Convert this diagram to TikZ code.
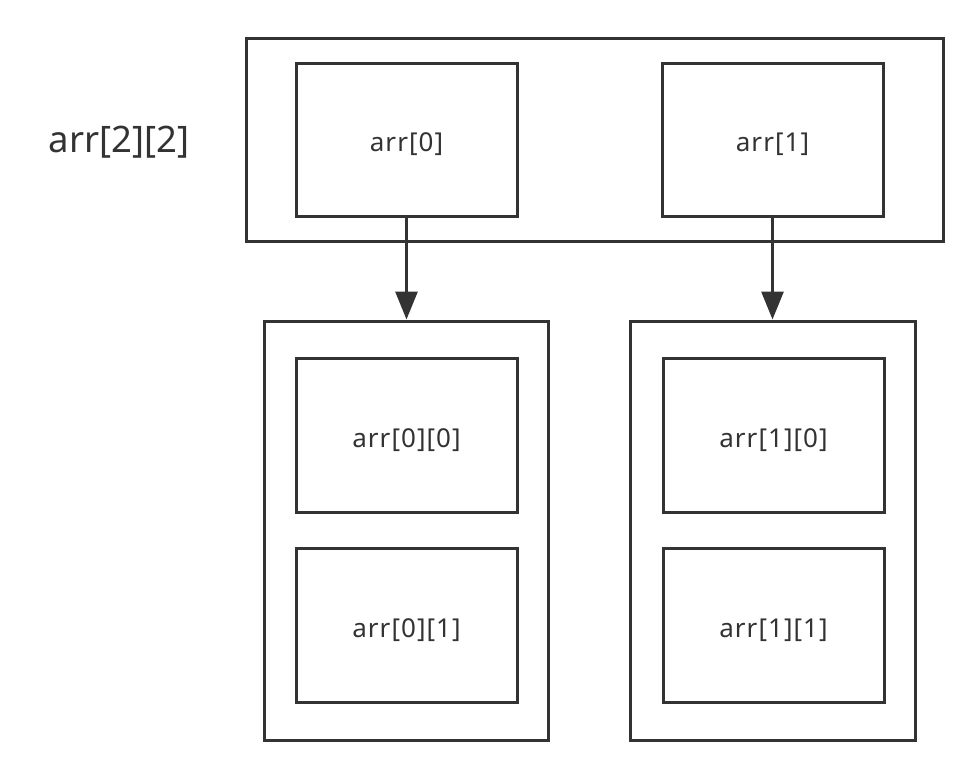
\documentclass[tikz,border=0pt]{standalone}
\usepackage{fontspec}
\setmainfont{Noto Sans}
\usetikzlibrary{arrows.meta}
\definecolor{ink}{HTML}{333333}
\newcommand{\celltext}[1]{\smash{\raisebox{-12pt}{#1}}}
\tikzset{
  cell/.style={draw=ink, line width=3pt, text=ink, font=\fontsize{26}{30}\selectfont\addfontfeature{LetterSpace=4}, inner sep=0pt},
  conn/.style={draw=ink, line width=3pt, -{Triangle[width=22pt,length=28pt]}},
}
\begin{document}
\begin{tikzpicture}[x=1pt,y=-1pt]
\useasboundingbox (0,0) rectangle (957,768);
\node[cell, minimum width=697pt, minimum height=202pt] (top) at (594.5,140) {};
\node[cell, minimum width=221pt, minimum height=153pt] (a0) at (406.5,139.5) {\celltext{arr[0]}};
\node[cell, minimum width=221pt, minimum height=153pt] (a1) at (772.5,139.5) {\celltext{arr[1]}};
\node[cell, minimum width=284pt, minimum height=419pt] (L) at (406,530.5) {};
\node[cell, minimum width=285pt, minimum height=419pt] (R) at (772.5,530.5) {};
\node[cell, minimum width=221pt, minimum height=154pt] (a00) at (406.5,435) {\celltext{arr[0][0]}};
\node[cell, minimum width=221pt, minimum height=154pt] (a01) at (406.5,625) {\celltext{arr[0][1]}};
\node[cell, minimum width=221pt, minimum height=154pt] (a10) at (773.5,435) {\celltext{arr[1][0]}};
\node[cell, minimum width=221pt, minimum height=154pt] (a11) at (773.5,625) {\celltext{arr[1][1]}};
\node[text=ink, font=\fontsize{36.5}{42}\selectfont, inner sep=0pt, anchor=base] (lab) at (119,152.7) {arr[2][2]};
\draw[conn] (a0.south) -- (a0.south |- L.north);
\draw[conn] (a1.south) -- (a1.south |- R.north);
\end{tikzpicture}
\end{document}
